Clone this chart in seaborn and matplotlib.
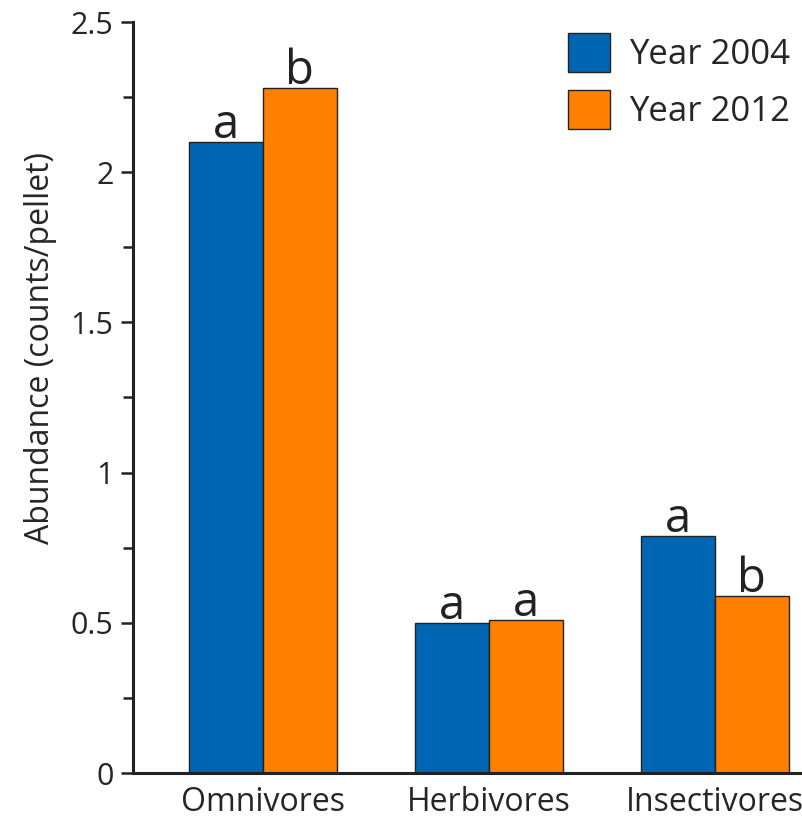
import pandas as pd
import seaborn as sns
import matplotlib.pyplot as plt
from matplotlib.ticker import MultipleLocator

FONT = "Open Sans"

groups   = ["Omnivores", "Herbivores", "Insectivores"]
years    = ["Year 2004", "Year 2012"]
y2004    = [2.10, 0.50, 0.79]
y2012    = [2.28, 0.51, 0.59]
let2004  = ["a", "a", "a"]
let2012  = ["b", "a", "b"]
colors   = ["#0066B3", "#FF8000"]

df = pd.DataFrame({
    "Group": groups * 2,
    "Year": [years[0]] * 3 + [years[1]] * 3,
    "Abundance": y2004 + y2012,
})

sns.set_style("ticks")
plt.rcParams["font.family"] = [FONT, "DejaVu Sans"]

fig = plt.figure(figsize=(8.03, 8.21), dpi=100)
ax = fig.add_axes([133 / 803, 48 / 821, (803 - 133) / 803, (773 - 22) / 821])

sns.barplot(
    data=df, x="Group", y="Abundance", hue="Year",
    palette=colors, width=0.655, gap=0, ax=ax,
    edgecolor="#222222", linewidth=1.0, saturation=1,
)

for cont, labs in zip(ax.containers, [let2004, let2012]):
    ax.bar_label(cont, labels=labs, fontsize=34, padding=-5, color="#222222")

ax.set_ylim(0, 2.5)
ax.set_xlim(-0.575, 2.39)
ax.yaxis.set_major_locator(MultipleLocator(0.5))
ax.yaxis.set_minor_locator(MultipleLocator(0.25))
ax.set_yticks([0, 0.5, 1, 1.5, 2, 2.5])
ax.set_yticklabels(["0", "0.5", "1", "1.5", "2", "2.5"])
ax.tick_params(axis="y", which="major", length=9, width=1.8, labelsize=22, pad=5, color="#222222")
ax.tick_params(axis="y", which="minor", length=7.5, width=1.8, color="#222222")
ax.tick_params(axis="x", length=0, labelsize=23, pad=9)

ax.set_xlabel("")
ax.set_ylabel("Abundance (counts/pellet)", fontsize=23)
ax.yaxis.set_label_coords(-0.113, 0.566)

sns.despine(ax=ax, top=True, right=True)
for s in ["left", "bottom"]:
    ax.spines[s].set_linewidth(2.2)
    ax.spines[s].set_color("#222222")

ax.legend(
    loc="upper right", frameon=False, fontsize=25,
    handlelength=1.2, handleheight=1.35, handletextpad=0.55,
    labelspacing=0.5, borderaxespad=0, borderpad=0,
    bbox_to_anchor=(0.98, 0.985),
)

plt.savefig("out.png", dpi=100)
